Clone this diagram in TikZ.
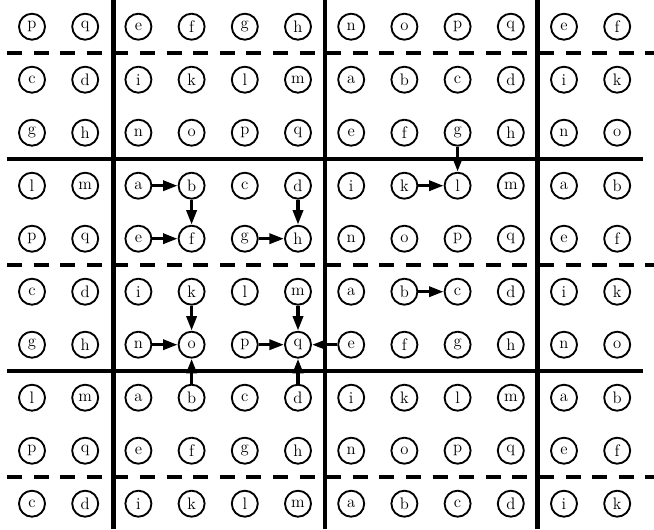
\documentclass[tikz,border=0pt]{standalone}
\usetikzlibrary{arrows.meta}
\begin{document}
\begin{tikzpicture}[x=0.75pt,y=-0.75pt,
  dot/.style={circle,draw,line width=1.4pt,minimum size=19.5pt,inner sep=0pt,
    font=\fontsize{12.5}{13}\selectfont},
  link/.style={line width=2.5pt,-{Triangle[length=11pt,width=7.5pt]}},
  solidline/.style={line width=3.1pt},
  dashline/.style={line width=3.1pt,dash pattern=on 11.2pt off 8.75pt}]
\useasboundingbox (0,0) rectangle (654,529);
\foreach \row [count=\r from 0] in {
  {p,q,e,f,g,h,n,o,p,q,e,f},
  {c,d,i,k,l,m,a,b,c,d,i,k},
  {g,h,n,o,p,q,e,f,g,h,n,o},
  {l,m,a,b,c,d,i,k,l,m,a,b},
  {p,q,e,f,g,h,n,o,p,q,e,f},
  {c,d,i,k,l,m,a,b,c,d,i,k},
  {g,h,n,o,p,q,e,f,g,h,n,o},
  {l,m,a,b,c,d,i,k,l,m,a,b},
  {p,q,e,f,g,h,n,o,p,q,e,f},
  {c,d,i,k,l,m,a,b,c,d,i,k}}{
  \foreach \l [count=\c from 0] in \row {
    \node[dot] (n\r-\c) at ({32+53.2*\c},{26.7+53*\r}) {\l};
  }
}
% arrows
\draw[link] (n3-2) -- (n3-3);
\draw[link] (n3-7) -- (n3-8);
\draw[link] (n3-3) -- (n4-3);
\draw[link] (n3-5) -- (n4-5);
\draw[link] (n4-2) -- (n4-3);
\draw[link] (n4-4) -- (n4-5);
\draw[link] (n5-3) -- (n6-3);
\draw[link] (n5-5) -- (n6-5);
\draw[link] (n6-2) -- (n6-3);
\draw[link] (n6-4) -- (n6-5);
\draw[link] (n6-6) -- (n6-5);
\draw[link] (n7-3) -- (n6-3);
\draw[link] (n7-5) -- (n6-5);
\draw[link] (n2-8) -- (n3-8);
\draw[link] (n5-7) -- (n5-8);
% grid lines
\coordinate (vl1t) at (113.5,0);   \coordinate (vl1b) at (113.5,529);
\coordinate (vl2t) at (325,0);     \coordinate (vl2b) at (325,529);
\coordinate (vl3t) at (537.5,0);   \coordinate (vl3b) at (537.5,529);
\draw[solidline] (vl1t) -- (vl1b);
\draw[solidline] (vl2t) -- (vl2b);
\draw[solidline] (vl3t) -- (vl3b);
\coordinate (hs1l) at (7,159.2);  \coordinate (hs1r) at (643,159.2);
\coordinate (hs2l) at (7,371.2);  \coordinate (hs2r) at (643,371.2);
\draw[solidline] (hs1l) -- (hs1r);
\draw[solidline] (hs2l) -- (hs2r);
\coordinate (hd1l) at (7,53.2);   \coordinate (hd1r) at (654,53.2);
\coordinate (hd2l) at (7,265.2);  \coordinate (hd2r) at (654,265.2);
\coordinate (hd3l) at (7,477.2);  \coordinate (hd3r) at (654,477.2);
\draw[dashline] (hd1l) -- (hd1r);
\draw[dashline] (hd2l) -- (hd2r);
\draw[dashline] (hd3l) -- (hd3r);
\end{tikzpicture}
\end{document}
